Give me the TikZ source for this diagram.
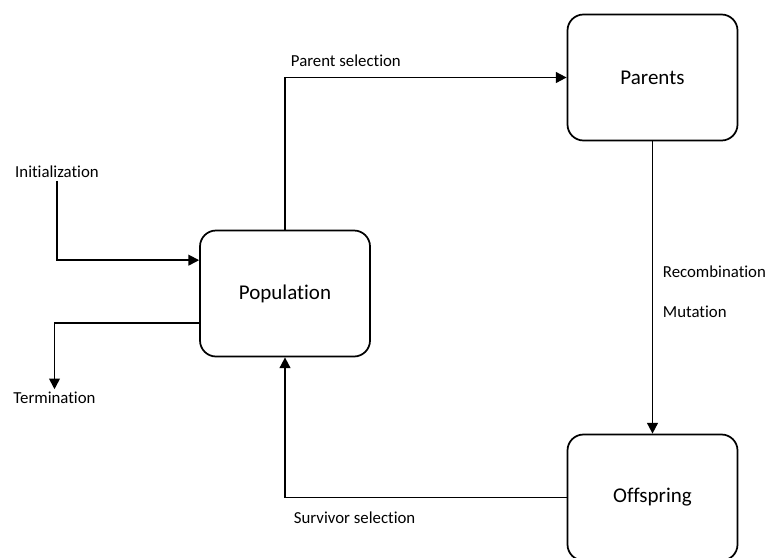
\documentclass[tikz,border=0pt]{standalone}
\usepackage{fontspec}
\setmainfont{Carlito}[Ligatures=CommonOff]
\usetikzlibrary{arrows.meta}

\begin{document}
\begin{tikzpicture}[x=0.75pt,y=-0.75pt,
  box/.style={draw,line width=1.3pt,rounded corners=12pt,minimum width=127.5pt,minimum height=94.5pt,inner sep=0pt,font=\fontsize{15.75}{19}\selectfont},
  lbl/.style={inner sep=2pt,font=\fontsize{12.6}{15}\selectfont},
  flow/.style={line width=1.3pt,-{Triangle[length=8pt,width=8pt]}}]
%================================================================
%	Frame
\useasboundingbox (0,0) rectangle (766,557);
\clip (0,0) rectangle (766,557);
%================================================================
%	Boxes
\node[box] (parents) at (652.5,77.5) {Parents};
\node[box] (pop) at (285,293.5) {Population};
\node[box] (offspring) at (652.5,497.5) {Offspring};
%----------------------------------------------------------------
\node[lbl] (init) at (57,172) {Initialization};
\node[lbl] (term) at (54.5,398) {Termination};
\node[lbl,anchor=west] (psel) at (288,61) {Parent selection};
\node[lbl,anchor=west] (reco) at (660,272) {Recombination};
\node[lbl,anchor=west] (muta) at (660,312) {Mutation};
\node[lbl,anchor=west] (ssel) at (291,518) {Survivor selection};
%================================================================
%	Arrows
\draw[flow] (pop.north) |- (parents.west);
\draw[flow] (parents.south) -- (offspring.north);
\draw[flow] (offspring.west) -| (pop.south);
\draw[flow] (init.south) |- ([yshift=25pt]pop.west);
\draw[flow] ([yshift=-22pt]pop.west) -| (term.north);
%================================================================
\end{tikzpicture}
\end{document}
